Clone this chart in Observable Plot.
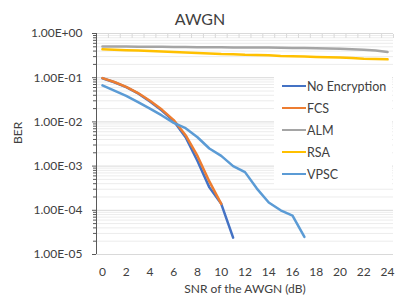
<!DOCTYPE html>
<html><head><meta charset="utf-8">
<script src="https://cdn.jsdelivr.net/npm/d3@7"></script>
<script src="https://cdn.jsdelivr.net/npm/@observablehq/plot@0.6"></script>
<style>
body{margin:0;background:#fff;font-family:Lato,sans-serif;}
#wrap{position:relative;width:399px;height:301px;overflow:hidden;}
#legend{position:absolute;left:274px;top:75px;width:118px;height:111px;background:#fff;font-size:12.5px;color:#404040;}
.row{display:flex;align-items:center;height:22px;}
.sw{width:24px;height:2.6px;margin-left:8px;margin-right:1px;}
</style></head>
<body><div id="wrap"></div>
<script>
const snr = [0,1,2,3,4,5,6,7,8,9,10,11,12,13,14,15,16,17,18,19,20,21,22,23,24];
const seriesNames = ["No Encryption","FCS","ALM","RSA","VPSC"];
const seriesColors = ["#4472C4","#ED7D31","#A5A5A5","#FFC000","#5B9BD5"];
const noEnc = [0.097,0.079,0.061,0.044,0.029,0.018,0.0105,0.0045,0.0013,0.00033,0.00014,0.000024];
const fcs = [0.098,0.080,0.062,0.045,0.030,0.019,0.011,0.005,0.0017,0.00045,0.00014];
const alm = [0.51,0.51,0.505,0.50,0.50,0.50,0.495,0.495,0.49,0.49,0.49,0.485,0.485,0.48,0.48,0.475,0.47,0.47,0.465,0.46,0.45,0.44,0.43,0.41,0.38];
const rsa = [0.44,0.43,0.42,0.41,0.40,0.39,0.38,0.37,0.36,0.355,0.345,0.34,0.33,0.325,0.32,0.31,0.305,0.30,0.295,0.29,0.285,0.28,0.27,0.265,0.26];
const vpsc = [0.067,0.051,0.039,0.028,0.020,0.014,0.0095,0.0072,0.0045,0.0025,0.0017,0.001,0.00073,0.00031,0.00015,0.0001,0.000076,0.000025];
const xTicks = [0,2,4,6,8,10,12,14,16,18,20,22,24];
const yTicks = [1,0.1,0.01,0.001,0.0001,0.00001];
const title = "AWGN";
const xLabel = "SNR of the AWGN (dB)";
const yLabel = "BER";

const allSeries = [noEnc, fcs, alm, rsa, vpsc];
const rows = allSeries.flatMap((vals, i) => vals.map((v, j) => ({series: seriesNames[i], x: snr[j], y: v})));
const minorTicks = [];
for (const d of yTicks.slice(1)) for (let k = 2; k <= 9; k++) minorTicks.push(d * k);
const boundaries = snr.map(d => d - 0.5).concat([snr[snr.length-1] + 0.5]);
const fmt = d => { const e = Math.round(Math.log10(d)); return "1.00E" + (e >= 0 ? "+" : "-") + String(Math.abs(e)).padStart(2, "0"); };

const chart = Plot.plot({
  width: 399, height: 301,
  marginLeft: 96, marginRight: 6, marginTop: 33, marginBottom: 47,
  style: {fontFamily: "Lato, sans-serif", fontSize: "12px", color: "#404040", background: "#fff"},
  x: {type: "linear", domain: [-0.5, 24.5]},
  y: {type: "log", domain: [0.00001, 1]},
  color: {domain: seriesNames, range: seriesColors},
  marks: [
    Plot.ruleY(minorTicks, {stroke: "#ececec", strokeWidth: 1}),
    Plot.ruleY(yTicks, {stroke: "#d9d9d9", strokeWidth: 1}),
    Plot.axisX({anchor: "top", ticks: boundaries, tickFormat: () => "", tickSize: 4, dy: 4, stroke: "#d9d9d9", strokeOpacity: 1, label: null}),
    Plot.axisX({anchor: "bottom", ticks: xTicks, tickSize: 0, tickPadding: 13, label: null, fontSize: 12, fill: "#404040"}),
    Plot.axisY({ticks: minorTicks, tickFormat: () => "", tickSize: 3, stroke: "#595959", strokeOpacity: 1, label: null}),
    Plot.axisY({ticks: yTicks, tickFormat: fmt, tickSize: 4, tickPadding: 10, stroke: "#595959", strokeOpacity: 1, label: null, fontSize: 12, fill: "#404040"}),
    Plot.ruleX([-0.5], {stroke: "#595959", strokeWidth: 1}),
    Plot.line(rows, {x: "x", y: "y", z: "series", stroke: "series", strokeWidth: 2.5, strokeLinejoin: "round", strokeLinecap: "round"}),
    Plot.text([title], {frameAnchor: "top", dx: -45, dy: -20, fontSize: 16, fontWeight: "normal", fill: "#404040"}),
    Plot.text([yLabel], {frameAnchor: "left", dx: -78, rotate: -90, fontSize: 12, fill: "#404040"}),
    Plot.text([xLabel], {frameAnchor: "bottom", dy: 38, fontSize: 12, fill: "#404040"})
  ]
});
const wrap = document.getElementById("wrap");
wrap.appendChild(chart);
const legend = document.createElement("div");
legend.id = "legend";
seriesNames.forEach((n, i) => {
  const r = document.createElement("div"); r.className = "row";
  const s = document.createElement("div"); s.className = "sw"; s.style.background = seriesColors[i];
  const t = document.createElement("span"); t.textContent = n;
  r.appendChild(s); r.appendChild(t); legend.appendChild(r);
});
wrap.appendChild(legend);
</script></body></html>
